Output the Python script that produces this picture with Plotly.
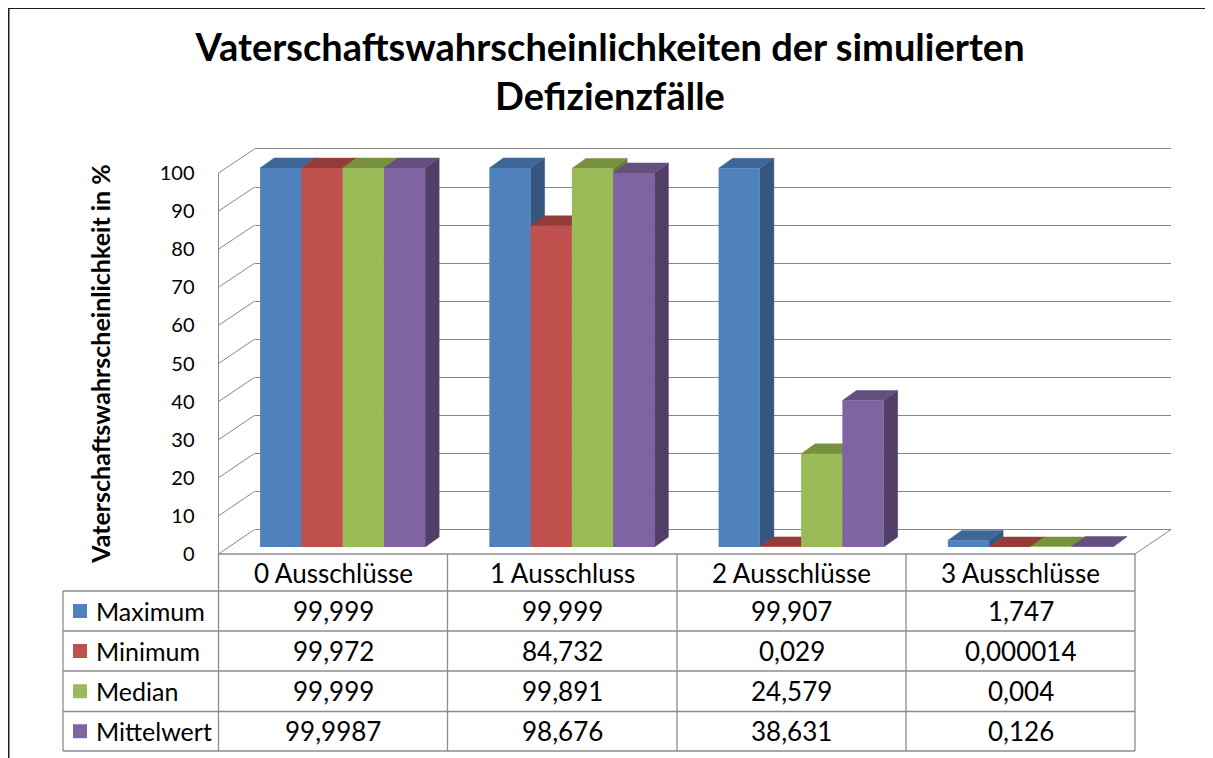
import plotly.graph_objects as go

# ---------------- data ----------------
categories = ["0 Ausschlüsse", "1 Ausschluss", "2 Ausschlüsse", "3 Ausschlüsse"]
series_names = ["Maximum", "Minimum", "Median", "Mittelwert"]
maximum = [99.999, 99.999, 99.907, 1.747]
minimum = [99.972, 84.732, 0.029, 0.000014]
median = [99.999, 99.891, 24.579, 0.004]
mittelwert = [99.9987, 98.676, 38.631, 0.126]
y_ticks = [0, 10, 20, 30, 40, 50, 60, 70, 80, 90, 100]

title_text = "Vaterschaftswahrscheinlichkeiten der simulierten<br>Defizienzfälle"
y_title = "Vaterschaftswahrscheinlichkeit in %"

# ---------------- styles ----------------
front_colors = ["#4F81BD", "#C0504D", "#9BBB59", "#8064A2"]
top_colors = ["#3D6798", "#943C3A", "#78913F", "#63507F"]
side_colors = ["#34567F", "#7E3230", "#667B37", "#523F68"]
grid_color = "#878787"
table_line = "#8C8C8C"
FONT = "Lato"

OX, OY = 8, 8          # page offset compensation
W, H = 1213 - OX, 758 - OY


def px(x):
    return (x - OX) / W


def py(y):
    return 1 - (y - OY) / H


# geometry (pixels, in reference-image coordinates)
FRONT_X = 218.5
FRONT_Y0, FRONT_Y100 = 554, 173
BACK_X0, BACK_X1 = 254.5, 1171
BACK_Y0, BACK_Y100 = 529.5, 149
BACK_PPU = (BACK_Y0 - BACK_Y100) / 100
BAR_X0, BAR_X1 = 228, 1145
BAR_Y0, BAR_PPU = 547, 3.79
BAR_YMAX = 110
col_edges = [218.5, 447.5, 677, 906, 1135]
row_edges = [554, 591, 631, 671, 711.5, 751]
TABLE_LEFT = 63

series = [maximum, minimum, median, mittelwert]
n_cat = len(categories)
n_ser = len(series)
bargap = 0.28
bw = (1 - bargap) / n_ser
cat_px = (BAR_X1 - BAR_X0) / n_cat
ddx = 14 / cat_px
ddy = 10 / BAR_PPU

fig = go.Figure()

fig.add_trace(go.Scatter(x=[None], y=[None], xaxis="x", yaxis="y",
                         showlegend=False, hoverinfo="skip"))
fig.add_trace(go.Scatter(x=[None], y=[None], xaxis="x2", yaxis="y2",
                         showlegend=False, hoverinfo="skip"))

# 3D side and top faces
for k, vals in enumerate(series):
    sx, sy, tx, ty = [], [], [], []
    for i, v in enumerate(vals):
        xl = i + (k - n_ser / 2) * bw
        xr = xl + bw
        sx += [xr, xr + ddx, xr + ddx, xr, xr, None]
        sy += [0, ddy, v + ddy, v, 0, None]
        tx += [xl, xl + ddx, xr + ddx, xr, xl, None]
        ty += [v, v + ddy, v + ddy, v, v, None]
    fig.add_trace(go.Scatter(x=sx, y=sy, xaxis="x3", yaxis="y3", mode="lines",
                             fill="toself", fillcolor=side_colors[k],
                             line=dict(width=0.5, color=side_colors[k]),
                             showlegend=False, hoverinfo="skip"))
    fig.add_trace(go.Scatter(x=tx, y=ty, xaxis="x3", yaxis="y3", mode="lines",
                             fill="toself", fillcolor=top_colors[k],
                             line=dict(width=0.5, color=top_colors[k]),
                             showlegend=False, hoverinfo="skip"))

# front faces
for k, vals in enumerate(series):
    fig.add_trace(go.Bar(x=list(range(n_cat)), y=vals, name=series_names[k],
                         xaxis="x4", yaxis="y4",
                         marker=dict(color=front_colors[k], line=dict(width=0)),
                         showlegend=False))

bar_ydom = [py(BAR_Y0), py(BAR_Y0 - BAR_YMAX * BAR_PPU)]
BACK_PAD = 1.0
fig.update_layout(
    template="none",
    width=W, height=H, autosize=False,
    margin=dict(l=0, r=0, t=0, b=0, pad=0, autoexpand=False),
    paper_bgcolor="white", plot_bgcolor="rgba(0,0,0,0)",
    barmode="group", bargap=bargap, bargroupgap=0,
    font=dict(family=FONT, color="black"),
    title=dict(text="<b>" + title_text + "</b>", x=px(610), xanchor="center",
               xref="paper", yref="paper", y=py(61), yanchor="middle",
               automargin=False,
               font=dict(family=FONT, size=38, color="black")),
    xaxis=dict(domain=[px(FRONT_X), px(col_edges[-1])], range=[0, 1],
               visible=False, anchor="y", automargin=False),
    yaxis=dict(domain=[py(FRONT_Y0), py(FRONT_Y100)], range=[0, 100],
               anchor="x", tickvals=y_ticks, ticks="", showgrid=False,
               zeroline=False, showline=True, linecolor=grid_color, linewidth=1,
               automargin=False,
               tickfont=dict(family=FONT, size=20, color="black"),
               ticklabelstandoff=19,
               title=dict(text="<b>" + y_title + "</b>", standoff=41,
                          font=dict(family=FONT, size=25, color="black"))),
    xaxis2=dict(domain=[px(BACK_X0), px(BACK_X1)], range=[0, 1],
                visible=False, anchor="y2", automargin=False),
    yaxis2=dict(domain=[py(BACK_Y0 + BACK_PAD * BACK_PPU),
                        py(BACK_Y100 - BACK_PAD * BACK_PPU)],
                range=[-BACK_PAD, 100 + BACK_PAD],
                anchor="x2", tickvals=y_ticks, showticklabels=False, ticks="",
                showgrid=True, gridcolor=grid_color, gridwidth=1,
                zeroline=False, showline=False, automargin=False),
    xaxis3=dict(domain=[px(BAR_X0), px(BAR_X1)], range=[-0.5, n_cat - 0.5],
                visible=False, anchor="y3", automargin=False),
    yaxis3=dict(domain=bar_ydom, range=[0, BAR_YMAX], visible=False, anchor="x3",
                automargin=False),
    xaxis4=dict(domain=[px(BAR_X0), px(BAR_X1)], range=[-0.5, n_cat - 0.5],
                visible=False, anchor="y4", overlaying="x3", automargin=False),
    yaxis4=dict(domain=bar_ydom, range=[0, BAR_YMAX], visible=False, anchor="x4",
                overlaying="y3", automargin=False),
)

shapes = []
shapes.append(dict(type="rect", xref="paper", yref="paper",
                   x0=px(8.75), x1=px(1213 + 5), y0=py(758 + 5), y1=py(8.25),
                   line=dict(color="#1E1E1E", width=1.5), fillcolor="rgba(0,0,0,0)"))


def line(x0, y0, x1, y1, color=grid_color, width=1):
    shapes.append(dict(type="line", xref="paper", yref="paper",
                       x0=px(x0), y0=py(y0), x1=px(x1), y1=py(y1),
                       line=dict(color=color, width=width), layer="below"))


for v in y_ticks:
    yf = FRONT_Y0 - (FRONT_Y0 - FRONT_Y100) * v / 100
    yb = BACK_Y0 - (BACK_Y0 - BACK_Y100) * v / 100
    line(FRONT_X, yf, BACK_X0, yb)
line(col_edges[-1], FRONT_Y0, BACK_X1, BACK_Y0)

line(col_edges[0], row_edges[0], col_edges[-1], row_edges[0], table_line, 1.3)
for r in row_edges[1:]:
    line(TABLE_LEFT, r, col_edges[-1], r, table_line, 1.3)
for c in col_edges:
    line(c, row_edges[0], c, row_edges[-1], table_line, 1.3)
line(TABLE_LEFT, row_edges[1], TABLE_LEFT, row_edges[-1], table_line, 1.3)

annotations = []
TFS = 26
RFS = 25
for j, cat in enumerate(categories):
    annotations.append(dict(text=cat, xref="paper", yref="paper",
                            x=px((col_edges[j] + col_edges[j + 1]) / 2),
                            y=py((row_edges[0] + row_edges[1]) / 2),
                            xanchor="center", yanchor="middle", showarrow=False,
                            font=dict(family=FONT, size=TFS, color="black")))


def fmt(v):
    s = f"{v:.6f}".rstrip("0").rstrip(".")
    return s.replace(".", ",")


for k, name in enumerate(series_names):
    yc = (row_edges[k + 1] + row_edges[k + 2]) / 2
    shapes.append(dict(type="rect", xref="paper", yref="paper",
                       x0=px(73), x1=px(87), y0=py(yc + 7), y1=py(yc - 7),
                       fillcolor=front_colors[k], line=dict(width=0)))
    annotations.append(dict(text=name, xref="paper", yref="paper",
                            x=px(94), y=py(yc), xanchor="left", yanchor="middle",
                            showarrow=False,
                            font=dict(family=FONT, size=RFS, color="black")))
    for j, v in enumerate(series[k]):
        annotations.append(dict(text=fmt(v), xref="paper", yref="paper",
                                x=px((col_edges[j] + col_edges[j + 1]) / 2),
                                y=py(yc), xanchor="center", yanchor="middle",
                                showarrow=False,
                                font=dict(family=FONT, size=TFS, color="black")))

fig.update_layout(shapes=shapes, annotations=annotations)
fig.write_html("out.html")
